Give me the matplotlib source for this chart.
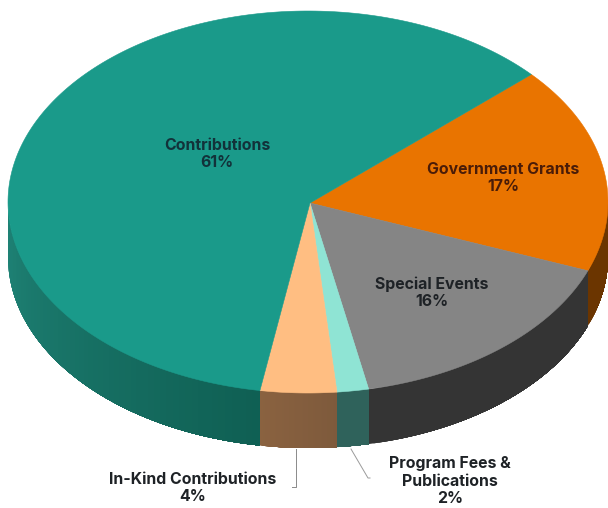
import numpy as np
import matplotlib
matplotlib.use("Agg")
import matplotlib.pyplot as plt
from matplotlib.patches import Polygon
from matplotlib.colors import to_rgb

# slices in clockwise order, starting from the upper right
categories = ["Government Grants", "Special Events", "Program Fees &\nPublications", "In-Kind Contributions", "Contributions"]
percent_labels = [17, 16, 2, 4, 61]
values = [17.5, 15.9, 1.7, 4.1, 60.8]
top_colors = ["#E97400", "#858585", "#8FE4D4", "#FFBE82", "#1A9A8A"]
side_near = ["#6B3500", "#343434", "#2F625B", "#7E5A3C", "#0F5F53"]
side_far = ["#6B3500", "#343434", "#2F625B", "#8A6240", "#1F8376"]
label_colors = ["#4A1C08", "#1E2226", "#1E2226", "#1E2226", "#12323A"]

HUB = (310, 203)
CX, CY, RX, RY, DEPTH = 308, 202, 300, 191, 55
START = 41.9

fig = plt.figure(figsize=(6.08, 5.08), dpi=100)
ax = fig.add_axes([0, 0, 1, 1])
ax.set_xlim(0, 608)
ax.set_ylim(508, 0)
ax.axis("off")


def pt(deg, dy=0):
    r = np.radians(deg)
    return CX + RX * np.cos(r), CY - RY * np.sin(r) + dy


fracs = np.array(values) / sum(values) * 360
ends = START - np.cumsum(fracs)
starts = ends + fracs

# side walls: only the front half of the rim (-180..0 degrees) shows.
# Each band runs to the end of its slice so that later bands paint over
# the seams without any antialiasing stripes.
for a0, a1, near, far in zip(starts, ends, side_near, side_far):
    hi, lo = min(a0, 0), max(a1, -180)
    if hi <= lo:
        continue
    steps = np.linspace(lo, hi, 61)
    for s in steps[:-1]:
        t = (s - lo) / (hi - lo)
        col = np.array(to_rgb(far)) * (1 - t) + np.array(to_rgb(near)) * t
        arc = np.linspace(s, hi, 80)
        upper = [pt(d) for d in arc]
        lower = [pt(d, DEPTH) for d in arc[::-1]]
        ax.add_patch(Polygon(upper + lower, closed=True, fc=col, ec="none"))

# top faces
for a0, a1, c in zip(starts, ends, top_colors):
    arc = [pt(d) for d in np.linspace(a0, a1, 240)]
    ax.add_patch(Polygon([HUB] + arc, closed=True, fc=c, ec=c, lw=0.4))

# leader lines
ax.plot([296, 296, 292], [449, 487, 487], color="#8A8A8A", lw=0.7)
ax.plot([351, 368, 370], [449, 478, 478], color="#9A9A9A", lw=0.7)

# labels
font = dict(family="Inter", fontweight="bold", fontsize=11.4, ha="center", va="center", linespacing=1.17)
anchors = [(503, 178), (432, 293), (450, 481), (193, 488), (217, 154)]
for name, val, (x, y), col in zip(categories, percent_labels, anchors, label_colors):
    ax.text(x, y, f"{name}\n{val}%", color=col, **font)

fig.savefig("out.png", dpi=100)
